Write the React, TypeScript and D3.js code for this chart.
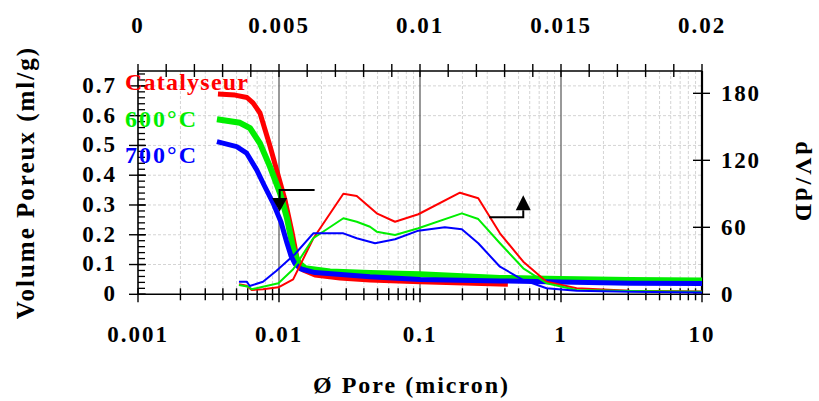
import React from "react";
import * as d3 from "d3";

// ---- data ----
const redThickX = [0.00369, 0.00488, 0.00593, 0.00654, 0.00733, 0.00863, 0.00984, 0.01103, 0.01236, 0.01341, 0.0148, 0.018, 0.0271, 0.0442, 0.1, 0.42];
const redThickY = [0.673, 0.669, 0.661, 0.643, 0.609, 0.498, 0.401, 0.317, 0.209, 0.122, 0.082, 0.065, 0.055, 0.048, 0.042, 0.034];

const greenThickX = [0.00363, 0.00529, 0.00623, 0.00733, 0.00863, 0.01017, 0.01139, 0.01257, 0.01364, 0.01529, 0.023, 0.0442, 0.1, 0.369, 1, 3.08, 10];
const greenThickY = [0.588, 0.576, 0.558, 0.507, 0.429, 0.34, 0.256, 0.156, 0.108, 0.088, 0.0766, 0.0716, 0.067, 0.055, 0.051, 0.048, 0.046];

const blueThickX = [0.00363, 0.00501, 0.0059, 0.00695, 0.00783, 0.00907, 0.01033, 0.01139, 0.01217, 0.013, 0.01432, 0.018, 0.0442, 0.1, 0.369, 1, 3.08, 10];
const blueThickY = [0.513, 0.496, 0.474, 0.418, 0.367, 0.307, 0.243, 0.172, 0.129, 0.102, 0.085, 0.073, 0.059, 0.05, 0.045, 0.041, 0.037, 0.036];

const redThinX = [0.0052, 0.0059, 0.0064, 0.0077, 0.0099, 0.0126, 0.0175, 0.0286, 0.0356, 0.0493, 0.0665, 0.0973, 0.192, 0.259, 0.369, 0.54, 0.79, 1.29, 3.08, 10];
const redThinY = [9, 7.6, 3.9, 4.5, 6.3, 13.4, 50, 90, 88, 72.5, 65, 71.7, 91, 86, 54.6, 29.2, 11.3, 5.4, 3.2, 2.5];

const greenThinX = [0.0052, 0.0061, 0.0064, 0.0077, 0.0099, 0.0126, 0.0175, 0.0286, 0.0356, 0.0442, 0.0493, 0.0665, 0.0973, 0.198, 0.259, 0.369, 0.54, 0.79, 1.29, 3.08, 10];
const greenThinY = [8.3, 6.8, 4.5, 6.8, 9.9, 22.4, 50.2, 68.1, 65, 60.5, 56.1, 53.1, 59.1, 72.5, 67.4, 45.7, 23.3, 9.9, 3.9, 3.0, 2.3];

const blueThinX = [0.0052, 0.0059, 0.0062, 0.0077, 0.0096, 0.013, 0.0175, 0.0286, 0.0356, 0.048, 0.0665, 0.0973, 0.15, 0.198, 0.259, 0.369, 0.54, 0.79, 1.29, 3.08, 10];
const blueThinY = [11.3, 11.3, 7.4, 11.3, 21.1, 36.1, 54.6, 54.6, 50.2, 45.7, 49.3, 57, 60, 58.2, 45.7, 24.7, 12.8, 5.4, 3.2, 2.3, 1.6];

const bottomTicks = [0.001, 0.01, 0.1, 1, 10];
const bottomLabels = ["0.001", "0.01", "0.1", "1", "10"];
const topTicks = [0, 0.005, 0.01, 0.015, 0.02];
const topLabels = ["0", "0.005", "0.01", "0.015", "0.02"];
const leftTicks = [0, 0.1, 0.2, 0.3, 0.4, 0.5, 0.6, 0.7];
const leftLabels = ["0", "0.1", "0.2", "0.3", "0.4", "0.5", "0.6", "0.7"];
const rightTicks = [0, 60, 120, 180];
const rightLabels = ["0", "60", "120", "180"];

const seriesNames = ["Catalyseur", "600°C", "700°C"];
const seriesColors = ["#ff0000", "#00ee00", "#0000ff"];

const W = 819, H = 401;
const L = 138, R = 702, T = 71, B = 294.3;
const FONT = "'Liberation Serif', 'Times New Roman', serif";

export default function App() {
  const x = d3.scaleLog().domain([0.001, 10]).range([L, R]);
  const xTop = d3.scaleLinear().domain([0, 0.02]).range([L, R]);
  const yL = d3.scaleLinear().domain([0, 0.75]).range([B, T]);
  const yR = d3.scaleLinear().domain([0, 200]).range([B, T]);

  const lineL = (xs: number[], ys: number[]) =>
    d3.line<number>().x((_, i) => x(xs[i])).y((v) => yL(v))(ys) || "";
  const lineR = (xs: number[], ys: number[]) =>
    d3.line<number>().x((_, i) => x(xs[i])).y((v) => yR(v))(ys) || "";

  const minorLog: number[] = [];
  for (let e = -3; e < 1; e++) {
    for (let m = 2; m <= 9; m++) minorLog.push(m * Math.pow(10, e));
  }
  const topMinor = d3.range(0, 0.02001, 0.001);
  const leftMinor = d3.range(0, 0.7401, 0.02);

  const thick = [
    [redThickX, redThickY, 5],
    [greenThickX, greenThickY, 6],
    [blueThickX, blueThickY, 5],
  ] as const;
  const thin = [
    [redThinX, redThinY],
    [greenThinX, greenThinY],
    [blueThinX, blueThinY],
  ] as const;

  // arrows anchored to data
  const a1x = x(0.0101), a1y = yL(0.35);
  const a2x = x(0.54), a2y = yR(69);

  return (
    <svg width={W} height={H} style={{ position: "absolute", left: 0, top: 0, background: "#fff" }}
      fontFamily={FONT} fontWeight="bold">
      {/* grid */}
      {leftTicks.slice(1).map((v) => (
        <line key={"hg" + v} x1={L} x2={R} y1={yL(v)} y2={yL(v)} stroke="#d4d4d4" strokeWidth={1} strokeDasharray="3 2" />
      ))}
      {minorLog.map((v) => (
        <line key={"vg" + v} x1={x(v)} x2={x(v)} y1={T} y2={B} stroke="#d4d4d4" strokeWidth={1} strokeDasharray="3 2" />
      ))}
      {[0.01, 0.1, 1].map((v) => (
        <line key={"dg" + v} x1={x(v)} x2={x(v)} y1={T} y2={B} stroke="#555" strokeWidth={1.2} />
      ))}

      {/* axes */}
      <line x1={L} x2={R} y1={B} y2={B} stroke="#000" strokeWidth={1.6} />
      <line x1={L} x2={R} y1={T} y2={T} stroke="#000" strokeWidth={1.6} />
      <line x1={L} x2={L} y1={T} y2={B} stroke="#000" strokeWidth={1.6} />
      <line x1={R} x2={R} y1={T} y2={B} stroke="#000" strokeWidth={2.2} />

      {/* bottom ticks */}
      {minorLog.concat(bottomTicks).map((v) => (
        <line key={"bt" + v} x1={x(v)} x2={x(v)} y1={B - 6} y2={bottomTicks.includes(v) ? B + 8 : B + 6} stroke="#000" strokeWidth={1.4} />
      ))}
      {bottomTicks.map((v, i) => (
        <text key={"bl" + v} x={x(v)} y={341.5} textAnchor="middle" fontSize={23} letterSpacing={2}>{bottomLabels[i]}</text>
      ))}

      {/* top ticks */}
      {topMinor.map((v) => (
        <line key={"tt" + v} x1={xTop(v)} x2={xTop(v)} y1={T - 7} y2={T + 6} stroke="#000" strokeWidth={1.4} />
      ))}
      {topTicks.map((v, i) => (
        <text key={"tl" + v} x={xTop(v)} y={33} textAnchor="middle" fontSize={23} letterSpacing={2}>{topLabels[i]}</text>
      ))}

      {/* left ticks */}
      {leftMinor.map((v) => (
        <line key={"lm" + v} x1={L} x2={L + 7} y1={yL(v)} y2={yL(v)} stroke="#000" strokeWidth={1.3} />
      ))}
      {leftTicks.map((v, i) => (
        <g key={"lt" + v}>
          <line x1={L - 9} x2={L + 8} y1={yL(v)} y2={yL(v)} stroke="#000" strokeWidth={1.4} />
          <text x={117} y={yL(v)} dy="0.3em" textAnchor="end" fontSize={23} letterSpacing={2}>{leftLabels[i]}</text>
        </g>
      ))}

      {/* right ticks */}
      {rightTicks.map((v, i) => (
        <g key={"rt" + v}>
          <line x1={R - 9} x2={R + 8} y1={yR(v)} y2={yR(v)} stroke="#000" strokeWidth={1.4} />
          <text x={721} y={yR(v)} dy="0.34em" textAnchor="start" fontSize={23} letterSpacing={1.8}>{rightLabels[i]}</text>
        </g>
      ))}

      {/* thick cumulative curves */}
      {thick.map(([xs, ys, w], i) => (
        <path key={"k" + i} d={lineL(xs as number[], ys as number[])} fill="none" stroke={seriesColors[i]} strokeWidth={w} strokeLinejoin="round" />
      ))}
      {/* thin dV/dD curves */}
      {thin.map(([xs, ys], i) => (
        <path key={"n" + i} d={lineR(xs as number[], ys as number[])} fill="none" stroke={seriesColors[i]} strokeWidth={2} strokeLinejoin="round" />
      ))}

      {/* arrows */}
      <path d={`M${a1x + 35},${a1y}H${a1x}V${a1y + 8}`} fill="none" stroke="#000" strokeWidth={2} />
      <path d={`M${a1x - 7.5},${a1y + 8}L${a1x + 7.5},${a1y + 8}L${a1x},${a1y + 21.5}Z`} fill="#000" />
      <path d={`M${a2x - 34},${a2y}H${a2x}V${a2y - 7}`} fill="none" stroke="#000" strokeWidth={2} />
      <path d={`M${a2x - 7.5},${a2y - 7}L${a2x + 7.5},${a2y - 7}L${a2x},${a2y - 22}Z`} fill="#000" />

      {/* legend labels */}
      {seriesNames.map((n, i) => (
        <text key={"lg" + i} x={125} y={90 + i * 36.5} fill={seriesColors[i]} fontSize={24}
          textLength={i === 0 ? 123 : 71} lengthAdjust="spacing">{n}</text>
      ))}

      {/* titles */}
      <text transform={`translate(34,${(T + B) / 2}) rotate(-90)`} textAnchor="middle" fontSize={25} letterSpacing={2}>Volume Poreux (ml/g)</text>
      <text transform={`translate(796,${(T + B) / 2}) rotate(90)`} textAnchor="middle" fontSize={24} letterSpacing={3}>dV/dD</text>
      <text x={411.5} y={393} textAnchor="middle" fontSize={24} letterSpacing={2}>Ø Pore (micron)</text>
    </svg>
  );
}
